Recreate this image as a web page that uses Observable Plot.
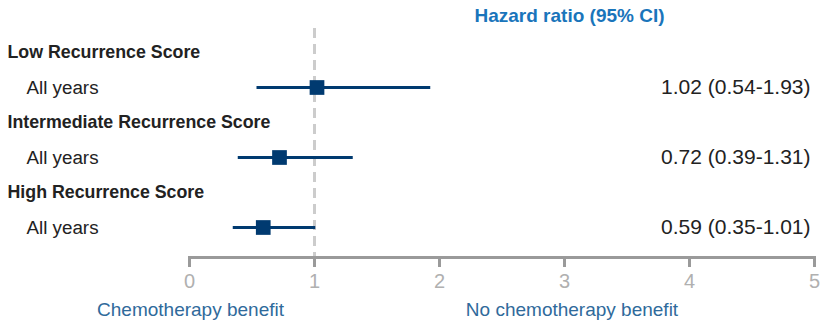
<!DOCTYPE html>
<html>
<head>
<meta charset="utf-8">
<script src="https://cdn.jsdelivr.net/npm/d3@7"></script>
<script src="https://cdn.jsdelivr.net/npm/@observablehq/plot@0.6"></script>
<style>
  html, body { margin: 0; padding: 0; background: #fff; }
  #chart svg { display: block; }
</style>
</head>
<body>
<div id="chart"></div>
<script>
// ---- data ----
const groups = ["Low Recurrence Score", "Intermediate Recurrence Score", "High Recurrence Score"];
const subLabels = ["All years", "All years", "All years"];
const hr = [1.02, 0.72, 0.59];
const ciLow = [0.54, 0.39, 0.35];
const ciHigh = [1.93, 1.31, 1.01];
const xTicks = [0, 1, 2, 3, 4, 5];
const headerLabel = "Hazard ratio (95% CI)";
const leftBenefit = "Chemotherapy benefit";
const rightBenefit = "No chemotherapy benefit";

// ---- derived tables ----
const rowKeys = [];
groups.forEach((g, i) => { rowKeys.push("g" + i, "r" + i); });
const headerRows = groups.map((g, i) => ({key: "g" + i, label: g}));
const dataRows = groups.map((g, i) => ({
  key: "r" + i, label: subLabels[i], hr: hr[i], lo: ciLow[i], hi: ciHigh[i],
  text: `${hr[i].toFixed(2)} (${ciLow[i].toFixed(2)}-${ciHigh[i].toFixed(2)})`
}));

const FONT = "'Liberation Sans', Arial, sans-serif";
const navy = "#003a70";

const chart = Plot.plot({
  width: 824,
  height: 326,
  marginLeft: 189,
  marginRight: 10,
  marginTop: 28,
  marginBottom: 69,
  style: {fontFamily: FONT, background: "#fff", overflow: "visible"},
  x: {domain: [0, 5], axis: null},
  y: {type: "point", domain: rowKeys, range: [50.7, 228.3], padding: 0, axis: null},
  marks: [
    Plot.ruleX([1], {stroke: "#cccccc", strokeWidth: 3, strokeDasharray: "10,6"}),
    Plot.frame({anchor: "bottom", stroke: "#9a9a9a", strokeWidth: 3}),
    Plot.axisX({ticks: xTicks, tickSize: 10, tickPadding: 6, stroke: "#9a9a9a", strokeWidth: 3,
      fontSize: 20, fill: "#b0b0b0", tickFormat: d => String(d), label: null}),
    Plot.text(headerRows, {y: "key", text: "label", frameAnchor: "left", dx: -182,
      textAnchor: "start", fontSize: 17.8, fontWeight: "bold", fill: "#222"}),
    Plot.text(dataRows, {y: "key", text: "label", frameAnchor: "left", dx: -163,
      textAnchor: "start", fontSize: 18.8, fill: "#222"}),
    Plot.ruleY(dataRows, {y: "key", x1: "lo", x2: "hi", stroke: navy, strokeWidth: 3}),
    Plot.dot(dataRows, {y: "key", x: "hr", symbol: "square", r: 8.3, fill: navy, stroke: "none"}),
    Plot.text(dataRows, {y: "key", text: "text", frameAnchor: "right", dx: -4,
      textAnchor: "end", fontSize: 21, fill: "#222"}),
    Plot.text([headerLabel], {frameAnchor: "top", lineAnchor: "middle", dx: 67.5, dy: -13,
      fontSize: 19, fontWeight: "bold", fill: "#1a75bb"}),
    Plot.text([leftBenefit], {frameAnchor: "bottom-left", lineAnchor: "middle", dx: 1, dy: 52,
      textAnchor: "middle", fontSize: 19, fill: "#2f6a9b"}),
    Plot.text([rightBenefit], {frameAnchor: "bottom", lineAnchor: "middle", dx: 70, dy: 52,
      textAnchor: "middle", fontSize: 19, fill: "#2f6a9b"})
  ]
});
document.getElementById("chart").appendChild(chart);
</script>
</body>
</html>
